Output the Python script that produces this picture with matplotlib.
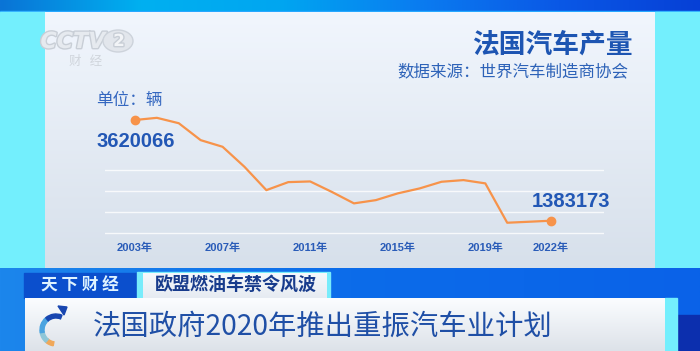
import numpy as np
import matplotlib.pyplot as plt
import matplotlib.colors as mcolors
from matplotlib.patches import Rectangle, Wedge, Polygon, Ellipse
import matplotlib.patheffects as pe

plt.rcParams['font.family'] = ['Noto Sans CJK SC', 'DejaVu Sans']

# French car output, vehicles per year
years = list(range(2003, 2023))
output = [3620066, 3668000, 3548000, 3172000, 3025000, 2580000, 2062000,
          2240000, 2255000, 2020000, 1768000, 1840000, 1990000, 2100000,
          2248000, 2285000, 2212000, 1338000, 1360000, 1383173]
tick_years = [2003, 2007, 2011, 2015, 2019, 2022]
grid_levels = [1.10e6, 1.57e6, 2.05e6, 2.52e6]

title = "法国汽车产量"
source = "数据来源：世界汽车制造商协会"
unit = "单位：辆"
tag_left = "天 下 财 经"
tag_topic = "欧盟燃油车禁令风波"
headline = "法国政府2020年推出重振汽车业计划"

W, H = 700, 351
LINE = "#f7934a"
BLUE_TXT = "#2257b5"
NUM_FONT = ['Liberation Sans', 'Noto Sans CJK SC']

fig = plt.figure(figsize=(7, 3.51), dpi=100)
bg = fig.add_axes([0, 0, 1, 1])
bg.axis('off')


def vgrad(ax, x0, x1, y0, y1, c_top, c_bot, z=0):
    t = np.linspace(0, 1, 64)[:, None, None]
    a = np.array(mcolors.to_rgb(c_top))
    b = np.array(mcolors.to_rgb(c_bot))
    img = a * (1 - t) + b * t
    ax.imshow(img, extent=(x0, x1, y1, y0), aspect='auto', zorder=z,
              interpolation='bilinear')


def hgrad(ax, x0, x1, y0, y1, stops, cols, z=0):
    xs = np.linspace(0, 1, 256)
    rgb = np.array([mcolors.to_rgb(c) for c in cols])
    img = np.stack([np.interp(xs, stops, rgb[:, k]) for k in range(3)], axis=-1)
    ax.imshow(img[None, :, :], extent=(x0, x1, y1, y0), aspect='auto',
              zorder=z, interpolation='bilinear')


# broadcast frame
hgrad(bg, 0, W, 0, 12, [0, 0.2, 0.4, 0.6, 0.8, 1],
      ["#0a74d6", "#00b0f0", "#00a6f0", "#0a7cf0", "#0a58e6", "#0640d6"])
bg.add_patch(Rectangle((0, 11), W, 1.5, color="#27a8ff", zorder=1))
bg.add_patch(Rectangle((0, 12), 45, 256, color="#73effd", zorder=1))
bg.add_patch(Rectangle((655, 12), 45, 256, color="#73effd", zorder=1))
vgrad(bg, 45, 655, 12, 268, "#f1f6fd", "#d7e0eb", z=1)

# channel watermark
halo = [pe.withStroke(linewidth=2, foreground="#c8ced6")]
bg.text(73, 42, "CCTV", fontsize=16, fontweight='bold', style='italic',
        color="#e6eaef", ha='center', va='center', family='DejaVu Sans',
        path_effects=halo, zorder=2)
bg.add_patch(Ellipse((118, 41), 30, 22, facecolor="#e2e6ec",
                     edgecolor="#cdd3db", lw=1, zorder=2))
bg.text(119, 41, "2", fontsize=12, fontweight='bold', color="#f2f4f7",
        ha='center', va='center', family='DejaVu Sans', path_effects=halo,
        zorder=3)
bg.text(86, 61, "财   经", fontsize=9, color="#d0d5dc", ha='center',
        va='center', zorder=2)

# lower third
hgrad(bg, 0, W, 268, H, [0, 0.5, 1], ["#1c86ec", "#0c6cea", "#0a62e8"], z=1)
bg.add_patch(Rectangle((677, 315), 23, 36, color="#0c2fae", zorder=2))
bg.add_patch(Rectangle((665, 298), 12, 53, color="#73effd", zorder=2))
bg.add_patch(Rectangle((24, 273), 113, 25, color="#0b4fcd", zorder=2))
bg.add_patch(Rectangle((137, 272), 193, 26, color="#78ecfb", zorder=2))
vgrad(bg, 143, 327, 273, 298, "#f6f9fc", "#e6ebf2", z=3)
vgrad(bg, 25, 665, 298, H, "#fbfdff", "#dde2e9", z=3)
bg.text(80, 285.5, tag_left, fontsize=12, fontweight='bold', color="#dff3ff",
        ha='center', va='center', zorder=4)
bg.text(236, 285.5, tag_topic, fontsize=13, fontweight='bold', color="#173b8c",
        ha='center', va='center', zorder=4)
bg.text(93, 326.5, headline, fontsize=20.4, color="#1f4fa6", ha='left',
        va='center', zorder=4)

# headline icon
arc_parts = [(100, 130, "#f0a85a"), (130, 170, "#8fc7d8"),
             (170, 230, "#4aa3e0"), (230, 292, "#1846b0")]
for t1, t2, c in arc_parts:
    bg.add_patch(Wedge((56, 330), 16, t1, t2, width=4, color=c, zorder=4))
bg.add_patch(Polygon([[58, 306], [67, 307], [64, 315]], closed=True,
                     color="#1846b0", zorder=4))

# chart titles
bg.text(633, 45, title, fontsize=19.3, fontweight='bold', color="#1d55b2",
        ha='right', va='center', zorder=4)
bg.text(628, 72, source, fontsize=11.9, color="#2d62b8", ha='right',
        va='center', zorder=4)
bg.text(96, 100, unit, fontsize=12, color="#3467c0", ha='left',
        va='center', zorder=4)

bg.set_xlim(0, W)
bg.set_ylim(H, 0)

# data axes
ax = fig.add_axes([105 / W, 1 - 240 / H, 499 / W, 140 / H])
ax.patch.set_alpha(0)
ax.plot(years, output, color=LINE, lw=1.6, solid_joinstyle='round', zorder=3)
ax.plot([years[0], years[-1]], [output[0], output[-1]], 'o', ms=6,
        color=LINE, zorder=4)
ax.annotate(f"{output[0]}", xy=(years[0], output[0]), xytext=(0.5, -15.5),
            textcoords='offset points', ha='center', va='center',
            fontsize=14.5, fontweight='bold', color=BLUE_TXT, family=NUM_FONT)
ax.annotate(f"{output[-1]}", xy=(years[-1], output[-1]), xytext=(14.5, 13.7),
            textcoords='offset points', ha='center', va='center',
            fontsize=14.5, fontweight='bold', color=BLUE_TXT, family=NUM_FONT)

ax.set_xlim(2001.63, 2024.42)
ax.set_ylim(954500, 4064000)
ax.set_yticks(grid_levels)
ax.set_yticklabels([])
ax.grid(axis='y', color='white', lw=1, alpha=0.8, zorder=1)
ax.set_xticks(tick_years)
ax.set_xticklabels([f"{y}年" for y in tick_years], fontsize=8,
                   fontweight='bold', color="#2a5cb8", family=NUM_FONT)
ax.tick_params(length=0, pad=2)
for s in ax.spines.values():
    s.set_visible(False)

fig.savefig("out.png", dpi=100)
